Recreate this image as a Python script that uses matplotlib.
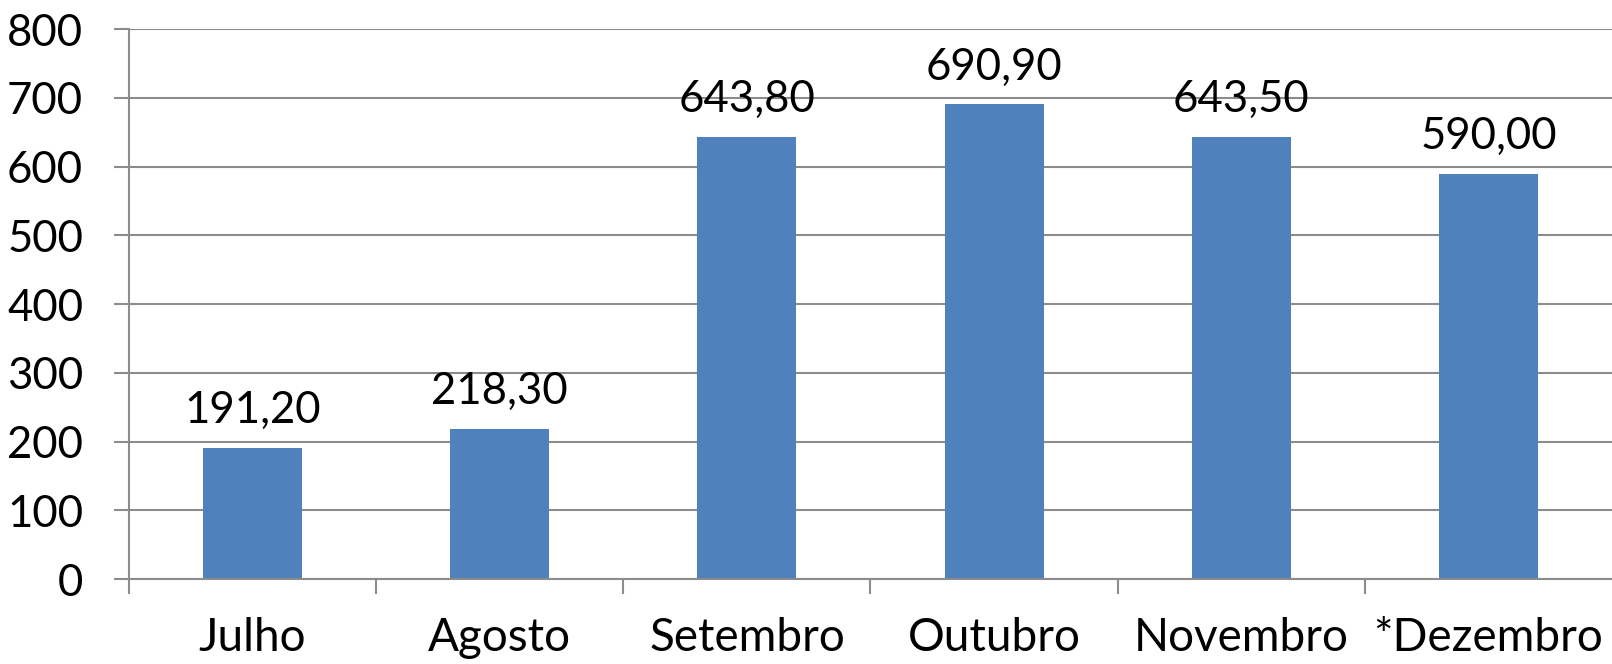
import matplotlib
matplotlib.use("Agg")
import numpy as np
import matplotlib.pyplot as plt

plt.rcParams['font.family'] = ['Lato', 'DejaVu Sans']

meses = ['Julho', 'Agosto', 'Setembro', 'Outubro', 'Novembro', '*Dezembro']
valores = [191.20, 218.30, 643.80, 690.90, 643.50, 590.00]
rotulos = ['191,20', '218,30', '643,80', '690,90', '643,50', '590,00']

cinza = '#8c8c8c'
azul = '#4f81bd'

fig = plt.figure(figsize=(16.12, 6.64), dpi=100)
ax = fig.add_axes([0.080, 0.128, 0.92, 0.828])

x = np.arange(len(meses))
ax.bar(x, valores, width=0.4, color=azul, zorder=3)

for xi, v, r in zip(x, valores, rotulos):
    ax.annotate(r, (xi, v), xytext=(0, 12), textcoords='offset points',
                ha='center', va='bottom', fontsize=31.5)

ax.set_xlim(-0.5, len(meses) - 0.5)
ax.set_ylim(0, 800)
ax.set_yticks(np.arange(0, 801, 100))
ax.tick_params(axis='y', labelsize=31.5, length=11, width=1.5, color=cinza, pad=22)

# ticks on category boundaries, labels at the centres
ax.set_xticks(np.arange(-0.5, len(meses) - 0.5, 1))
ax.set_xticklabels([])
ax.set_xticks(x, minor=True)
ax.set_xticklabels(meses, minor=True)
ax.tick_params(axis='x', which='major', length=11, width=1.5, color=cinza)
ax.tick_params(axis='x', which='minor', length=0, labelsize=33, pad=27)

ax.grid(axis='y', color=cinza, linewidth=1.5, zorder=0)
for s in ['top', 'right']:
    ax.spines[s].set_visible(False)
for s in ['left', 'bottom']:
    ax.spines[s].set_color(cinza)
    ax.spines[s].set_linewidth(1.5)
    ax.spines[s].set_zorder(4)

fig.savefig('out.png', dpi=100)
